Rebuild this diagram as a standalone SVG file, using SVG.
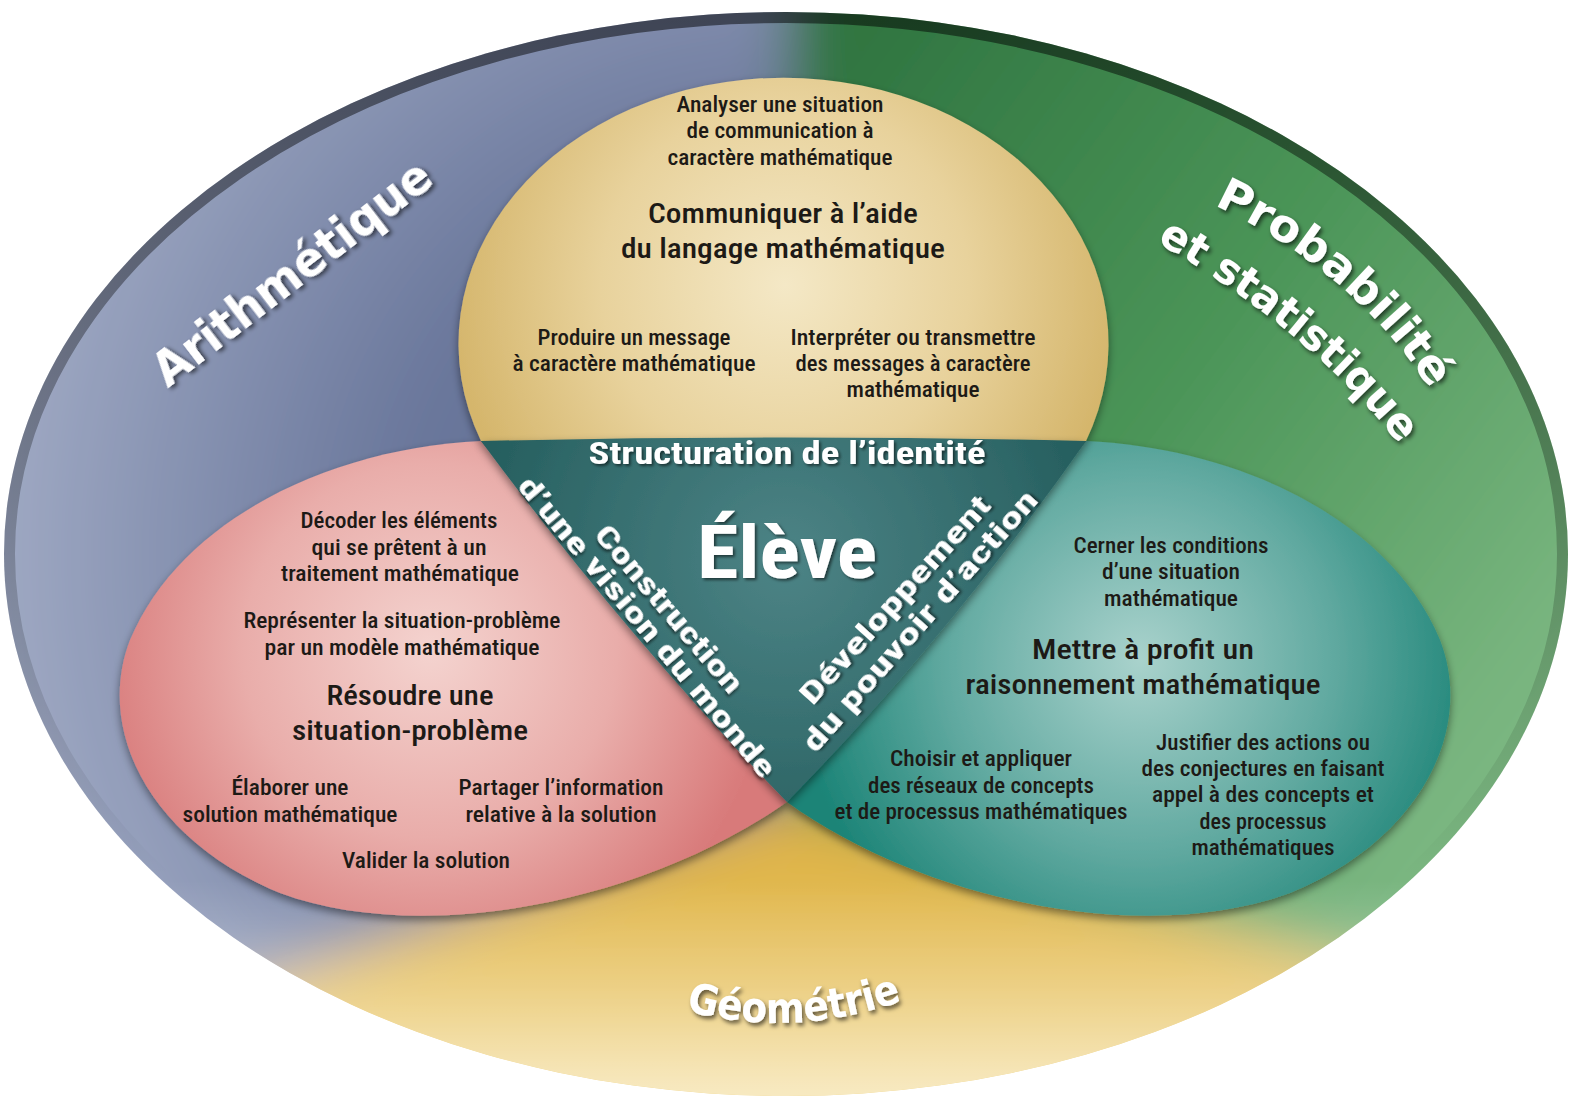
<svg xmlns="http://www.w3.org/2000/svg" width="1573" height="1101" viewBox="0 0 1573 1101">
<defs>
<style>
.t{font-family:"Roboto Condensed",Roboto,"Liberation Sans Narrow","DejaVu Sans Condensed",sans-serif;font-weight:500;font-size:21.5px;fill:#1d1a16;text-anchor:middle}
.h{font-size:28.5px}
.w{font-family:"Roboto Condensed",Roboto,"Liberation Sans",sans-serif;font-weight:bold;fill:#fff;text-anchor:middle;filter:url(#ts)}
.d{font-family:"DejaVu Sans","Liberation Sans",sans-serif;font-weight:bold;fill:#fff;text-anchor:middle;filter:url(#ts2)}
</style>
<clipPath id="oc"><ellipse cx="786" cy="554" rx="782" ry="542"/></clipPath>
<filter id="bl" x="-20%" y="-20%" width="140%" height="140%"><feGaussianBlur stdDeviation="28"/></filter>
<filter id="sh" x="-10%" y="-10%" width="120%" height="125%"><feDropShadow dx="0" dy="4" stdDeviation="4" flood-color="#000" flood-opacity="0.45"/></filter>
<filter id="ts" x="-10%" y="-30%" width="120%" height="160%"><feDropShadow dx="2" dy="2" stdDeviation="1.5" flood-color="#000" flood-opacity="0.55"/></filter>
<filter id="ts2" x="-10%" y="-30%" width="120%" height="160%"><feDropShadow dx="2" dy="3" stdDeviation="2" flood-color="#000" flood-opacity="0.6"/></filter>
<radialGradient id="gBlue" gradientUnits="userSpaceOnUse" cx="786" cy="554" r="800"><stop offset="0" stop-color="#56648a"/><stop offset="0.5" stop-color="#6b789c"/><stop offset="1" stop-color="#a0aac4"/></radialGradient>
<linearGradient id="gGreen" gradientUnits="userSpaceOnUse" x1="820" y1="60" x2="1573" y2="620"><stop offset="0" stop-color="#2f7440"/><stop offset="0.5" stop-color="#4a9457"/><stop offset="1" stop-color="#7ab680"/></linearGradient>
<linearGradient id="gYel" gradientUnits="userSpaceOnUse" x1="0" y1="800" x2="0" y2="1100"><stop offset="0" stop-color="#ddb145"/><stop offset="0.7" stop-color="#e6c05a"/><stop offset="1" stop-color="#f0d37e"/></linearGradient>
<linearGradient id="gBot" gradientUnits="userSpaceOnUse" x1="0" y1="880" x2="0" y2="1100"><stop offset="0" stop-color="#fff" stop-opacity="0"/><stop offset="1" stop-color="#fff" stop-opacity="0.55"/></linearGradient>
<linearGradient id="gRim" x1="0" y1="0" x2="0" y2="1"><stop offset="0" stop-color="#000" stop-opacity="0.5"/><stop offset="0.45" stop-color="#000" stop-opacity="0.25"/><stop offset="0.8" stop-color="#000" stop-opacity="0"/></linearGradient>
<radialGradient id="gTan" gradientUnits="userSpaceOnUse" cx="785" cy="285" r="335"><stop offset="0" stop-color="#f4e8c6"/><stop offset="0.55" stop-color="#e8d29c"/><stop offset="1" stop-color="#d5b66c"/></radialGradient>
<radialGradient id="gRed" gradientUnits="userSpaceOnUse" cx="430" cy="650" r="340"><stop offset="0" stop-color="#f4d3cf"/><stop offset="0.55" stop-color="#e9adaa"/><stop offset="1" stop-color="#d87a7a"/></radialGradient>
<radialGradient id="gTeal" gradientUnits="userSpaceOnUse" cx="1140" cy="660" r="345"><stop offset="0" stop-color="#a9d2cc"/><stop offset="0.55" stop-color="#62aaa1"/><stop offset="1" stop-color="#1c8477"/></radialGradient>
<radialGradient id="gTri" gradientUnits="userSpaceOnUse" cx="785" cy="560" r="320"><stop offset="0" stop-color="#4d8486"/><stop offset="1" stop-color="#255e5e"/></radialGradient>
<path id="pProb" d="M 1214,205 Q 1352,269 1430,389"/>
<path id="pStat" d="M 1158,243 Q 1313,333 1398,443"/>
<path id="pGeo" d="M 683,1010 Q 792,1040 905,1000"/>
</defs>

<g id="domains">
  <g clip-path="url(#oc)">
    <g filter="url(#bl)">
      <polygon fill="url(#gBlue)" points="-200,-200 790,-200 788,800 -200,1146"/>
      <polygon fill="url(#gGreen)" points="790,-200 1800,-200 1800,1095 788,800"/>
      <polygon fill="url(#gYel)" points="-200,1146 788,800 1800,1095 1800,1400 -200,1400"/>
    </g>
    <ellipse cx="786" cy="554" rx="782" ry="542" fill="url(#gBot)"/>
    <ellipse cx="786" cy="554" rx="777" ry="537" fill="none" stroke="url(#gRim)" stroke-width="12"/>
  </g>
  <text class="d" font-size="48" textLength="338" lengthAdjust="spacingAndGlyphs" transform="translate(292,273) rotate(-37.5)" x="0" y="16">Arithmétique</text>
  <text class="d" font-size="45"><textPath href="#pProb" startOffset="50%" textLength="288" lengthAdjust="spacingAndGlyphs">Probabilité</textPath></text>
  <text class="d" font-size="43"><textPath href="#pStat" startOffset="50%" textLength="318" lengthAdjust="spacingAndGlyphs">et statistique</textPath></text>
  <text class="d" font-size="42"><textPath href="#pGeo" startOffset="50%" textLength="220" lengthAdjust="spacingAndGlyphs">Géométrie</textPath></text>
</g>

<g id="resoudre">
  <path filter="url(#sh)" fill="url(#gRed)" d="M 481,441 C 330,448 180,520 130,640 C 95,730 150,840 280,893 C 420,945 640,905 787,802 L 481,441 Z"/>
  <text class="t" x="399" y="528" textLength="197" lengthAdjust="spacingAndGlyphs">Décoder les éléments</text>
  <text class="t" x="399" y="555" textLength="175" lengthAdjust="spacingAndGlyphs">qui se prêtent à un</text>
  <text class="t" x="400" y="581" textLength="238" lengthAdjust="spacingAndGlyphs">traitement mathématique</text>
  <text class="t" x="402" y="628" textLength="317" lengthAdjust="spacingAndGlyphs">Représenter la situation-problème</text>
  <text class="t" x="402" y="655" textLength="275" lengthAdjust="spacingAndGlyphs">par un modèle mathématique</text>
  <text class="t h" x="410" y="705" textLength="167" lengthAdjust="spacingAndGlyphs">Résoudre une</text>
  <text class="t h" x="410" y="740" textLength="236" lengthAdjust="spacingAndGlyphs">situation-problème</text>
  <text class="t" x="290" y="795" textLength="117" lengthAdjust="spacingAndGlyphs">Élaborer une</text>
  <text class="t" x="290" y="822" textLength="215" lengthAdjust="spacingAndGlyphs">solution mathématique</text>
  <text class="t" x="561" y="795" textLength="205" lengthAdjust="spacingAndGlyphs">Partager l’information</text>
  <text class="t" x="561" y="822" textLength="191" lengthAdjust="spacingAndGlyphs">relative à la solution</text>
  <text class="t" x="426" y="868" textLength="168" lengthAdjust="spacingAndGlyphs">Valider la solution</text>
</g>

<g id="raisonner">
  <path filter="url(#sh)" fill="url(#gTeal)" d="M 1086,441 C 1240,448 1390,520 1440,640 C 1475,730 1420,840 1290,893 C 1150,945 930,905 787,802 L 1086,441 Z"/>
  <text class="t" x="1171" y="553" textLength="195" lengthAdjust="spacingAndGlyphs">Cerner les conditions</text>
  <text class="t" x="1171" y="579" textLength="138" lengthAdjust="spacingAndGlyphs">d’une situation</text>
  <text class="t" x="1171" y="606" textLength="134" lengthAdjust="spacingAndGlyphs">mathématique</text>
  <text class="t h" x="1143" y="659" textLength="222" lengthAdjust="spacingAndGlyphs">Mettre à profit un</text>
  <text class="t h" x="1143" y="694" textLength="355" lengthAdjust="spacingAndGlyphs">raisonnement mathématique</text>
  <text class="t" x="981" y="766" textLength="182" lengthAdjust="spacingAndGlyphs">Choisir et appliquer</text>
  <text class="t" x="981" y="793" textLength="226" lengthAdjust="spacingAndGlyphs">des réseaux de concepts</text>
  <text class="t" x="981" y="819" textLength="293" lengthAdjust="spacingAndGlyphs">et de processus mathématiques</text>
  <text class="t" x="1263" y="750" textLength="214" lengthAdjust="spacingAndGlyphs">Justifier des actions ou</text>
  <text class="t" x="1263" y="776" textLength="243" lengthAdjust="spacingAndGlyphs">des conjectures en faisant</text>
  <text class="t" x="1263" y="802" textLength="222" lengthAdjust="spacingAndGlyphs">appel à des concepts et</text>
  <text class="t" x="1263" y="829" textLength="127" lengthAdjust="spacingAndGlyphs">des processus</text>
  <text class="t" x="1263" y="855" textLength="143" lengthAdjust="spacingAndGlyphs">mathématiques</text>
</g>

<g id="communiquer">
  <path filter="url(#sh)" fill="url(#gTan)" d="M 481,441 A 325 266 0 1 1 1086,441 Z"/>
  <text class="t" x="780" y="112" textLength="207" lengthAdjust="spacingAndGlyphs">Analyser une situation</text>
  <text class="t" x="780" y="138" textLength="187" lengthAdjust="spacingAndGlyphs">de communication à</text>
  <text class="t" x="780" y="165" textLength="225" lengthAdjust="spacingAndGlyphs">caractère mathématique</text>
  <text class="t h" x="783" y="223" textLength="270" lengthAdjust="spacingAndGlyphs">Communiquer à l’aide</text>
  <text class="t h" x="783" y="258" textLength="324" lengthAdjust="spacingAndGlyphs">du langage mathématique</text>
  <text class="t" x="634" y="345" textLength="193" lengthAdjust="spacingAndGlyphs">Produire un message</text>
  <text class="t" x="634" y="371" textLength="243" lengthAdjust="spacingAndGlyphs">à caractère mathématique</text>
  <text class="t" x="913" y="345" textLength="245" lengthAdjust="spacingAndGlyphs">Interpréter ou transmettre</text>
  <text class="t" x="913" y="371" textLength="235" lengthAdjust="spacingAndGlyphs">des messages à caractère</text>
  <text class="t" x="913" y="397" textLength="133" lengthAdjust="spacingAndGlyphs">mathématique</text>
</g>

<g id="eleve">
  <path filter="url(#sh)" fill="url(#gTri)" d="M 481,441 Q 784,434 1086,441 Q 950,635 787,802 Q 625,635 481,441 Z"/>
  <text class="w" x="787" y="464" font-size="32" textLength="397" lengthAdjust="spacingAndGlyphs">Structuration de l’identité</text>
  <text class="w" x="787" y="578" font-size="74" textLength="180" lengthAdjust="spacingAndGlyphs">Élève</text>
  <text class="w" font-size="30" textLength="211" lengthAdjust="spacingAndGlyphs" transform="translate(669,609) rotate(49.5)" x="0" y="10">Construction</text>
  <text class="w" font-size="30" textLength="383" lengthAdjust="spacingAndGlyphs" transform="translate(647,627) rotate(50)" x="0" y="10">d’une vision du monde</text>
  <text class="w" font-size="30" textLength="269" lengthAdjust="spacingAndGlyphs" transform="translate(895,600) rotate(-48)" x="0" y="10">Développement</text>
  <text class="w" font-size="30" textLength="338" lengthAdjust="spacingAndGlyphs" transform="translate(920,621) rotate(-48.5)" x="0" y="10">du pouvoir d’action</text>
</g>

<g id="connectors"/>
</svg>
